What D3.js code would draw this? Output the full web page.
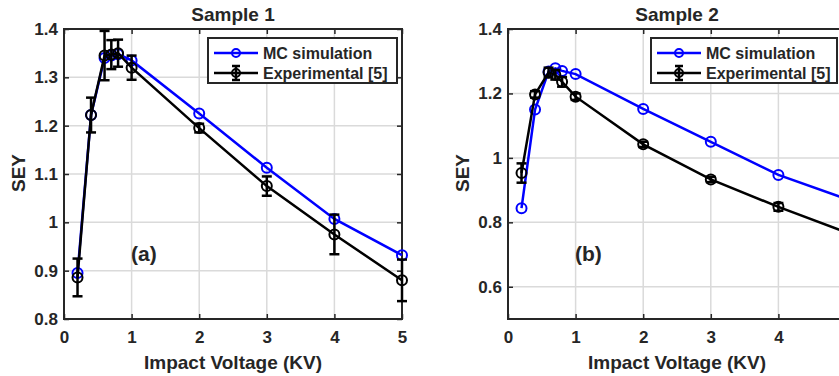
<!DOCTYPE html>
<html>
<head>
<meta charset="utf-8">
<script src="https://cdn.jsdelivr.net/npm/d3@7"></script>
<style>
  body { margin: 0; background: #fff; }
  text { font-family: "Liberation Sans", Arial, sans-serif; font-weight: bold; fill: #262626; }
</style>
</head>
<body>
<script>
// impact voltage (kV)
var voltage = [0.2, 0.4, 0.6, 0.7, 0.8, 1, 2, 3, 4, 5];

// sample 1
var mc1 = [0.895, 1.222, 1.340, 1.345, 1.348, 1.335, 1.225, 1.113, 1.007, 0.932];
var exp1 = [0.886, 1.222, 1.345, 1.347, 1.350, 1.320, 1.195, 1.075, 0.975, 0.880];
var err1 = [0.039, 0.036, 0.051, 0.030, 0.028, 0.025, 0.009, 0.020, 0.041, 0.043];

// sample 2
var mc2 = [0.844, 1.150, 1.268, 1.278, 1.270, 1.260, 1.152, 1.050, 0.947, 0.873];
var exp2 = [0.953, 1.197, 1.265, 1.258, 1.236, 1.190, 1.042, 0.933, 0.848, 0.769];
var err2 = [0.030, 0.010, 0.015, 0.015, 0.015, 0.010, 0.008, 0.008, 0.012, 0.010];

var xTicks = [0, 1, 2, 3, 4, 5];
var yTicks1 = [0.8, 0.9, 1, 1.1, 1.2, 1.3, 1.4];
var yTicks2 = [0.6, 0.8, 1, 1.2, 1.4];
var legendNames = ["MC simulation", "Experimental [5]"];

var svg = d3.select("body").append("svg")
	.attr("width", 839)
	.attr("height", 376);

function drawPanel(opt) {
	var x = d3.scaleLinear().domain([0, 5]).range([opt.left, opt.left + 338]);
	var y = d3.scaleLinear().domain(opt.yDomain).range([319, 29]);
	var g = svg.append("g");
	var x0 = x.range()[0], x1 = x.range()[1];

	// grid
	g.selectAll(".gx").data(xTicks).enter().append("line")
		.attr("x1", function(d) { return x(d); }).attr("x2", function(d) { return x(d); })
		.attr("y1", 29).attr("y2", 319)
		.attr("stroke", "#dadada").attr("stroke-width", 1.5);
	g.selectAll(".gy").data(opt.yTicks).enter().append("line")
		.attr("x1", x0).attr("x2", x1)
		.attr("y1", function(d) { return y(d); }).attr("y2", function(d) { return y(d); })
		.attr("stroke", "#dadada").attr("stroke-width", 1.5);

	// axes
	var xAxis = d3.axisBottom(x).tickValues(xTicks).tickSize(-5).tickPadding(12).tickFormat(d3.format("d"));
	var yAxis = d3.axisLeft(y).tickValues(opt.yTicks).tickSize(-5).tickPadding(6).tickFormat(function(d) { return d3.format("")(d); });
	var xa = g.append("g").attr("transform", "translate(0,319)").call(xAxis);
	var ya = g.append("g").attr("transform", "translate(" + x0 + ",0)").call(yAxis);
	var xt = g.append("g").attr("transform", "translate(0,29)").call(d3.axisTop(x).tickValues(xTicks).tickSize(-5).tickFormat(""));
	var yr = g.append("g").attr("transform", "translate(" + x1 + ",0)").call(d3.axisRight(y).tickValues(opt.yTicks).tickSize(-5).tickFormat(""));
	[xa, ya, xt, yr].forEach(function(a) {
		a.select(".domain").remove();
		a.selectAll("line").attr("stroke", "#262626").attr("stroke-width", 1.5);
		a.selectAll("text").style("font-size", "17px").style("font-family", null).attr("fill", "#262626");
	});
	g.append("rect").attr("x", x0).attr("y", 29).attr("width", x1 - x0).attr("height", 290)
		.attr("fill", "none").attr("stroke", "#262626").attr("stroke-width", 2);

	// series
	var line = d3.line().x(function(d) { return x(d[0]); }).y(function(d) { return y(d[1]); });
	var mcPts = voltage.map(function(v, i) { return [v, opt.mc[i]]; });
	var expPts = voltage.map(function(v, i) { return [v, opt.exp[i], opt.err[i]]; });

	g.append("path").datum(mcPts).attr("d", line)
		.attr("fill", "none").attr("stroke", "#0000ff").attr("stroke-width", 2.5);
	g.selectAll(".mc").data(mcPts).enter().append("circle")
		.attr("cx", function(d) { return x(d[0]); }).attr("cy", function(d) { return y(d[1]); })
		.attr("r", 5).attr("fill", "none").attr("stroke", "#0000ff").attr("stroke-width", 2);

	g.append("path").datum(expPts).attr("d", line)
		.attr("fill", "none").attr("stroke", "#000").attr("stroke-width", 2.5);
	var eb = g.selectAll(".eb").data(expPts).enter().append("g");
	eb.append("line")
		.attr("x1", function(d) { return x(d[0]); }).attr("x2", function(d) { return x(d[0]); })
		.attr("y1", function(d) { return y(d[1] - d[2]); }).attr("y2", function(d) { return y(d[1] + d[2]); })
		.attr("stroke", "#000").attr("stroke-width", 2.5);
	[-1, 1].forEach(function(s) {
		eb.append("line")
			.attr("x1", function(d) { return x(d[0]) - 5; }).attr("x2", function(d) { return x(d[0]) + 5; })
			.attr("y1", function(d) { return y(d[1] + s * d[2]); }).attr("y2", function(d) { return y(d[1] + s * d[2]); })
			.attr("stroke", "#000").attr("stroke-width", 2.5);
	});
	eb.append("circle")
		.attr("cx", function(d) { return x(d[0]); }).attr("cy", function(d) { return y(d[1]); })
		.attr("r", 5).attr("fill", "none").attr("stroke", "#000").attr("stroke-width", 2);

	// labels
	g.append("text").attr("x", (x0 + x1) / 2).attr("y", 21).attr("text-anchor", "middle")
		.style("font-size", "19px").attr("fill", "#000").text(opt.title);
	g.append("text").attr("x", (x0 + x1) / 2).attr("y", 369).attr("text-anchor", "middle")
		.style("font-size", "19px").text("Impact Voltage (KV)");
	g.append("text").attr("transform", "translate(" + (x0 - 39) + ",173) rotate(-90)").attr("text-anchor", "middle")
		.style("font-size", "19px").text("SEY");
	g.append("text").attr("x", x0 + 67).attr("y", 261)
		.style("font-size", "21px").attr("fill", "#000").text(opt.tag);

	// legend
	var lx = x0 + opt.legX, ly = 38;
	var lg = g.append("g");
	lg.append("rect").attr("x", lx).attr("y", ly).attr("width", opt.legW).attr("height", 45)
		.attr("fill", "#fff").attr("stroke", "#262626").attr("stroke-width", 2);
	lg.append("line").attr("x1", lx + 6).attr("x2", lx + 50).attr("y1", ly + 15).attr("y2", ly + 15)
		.attr("stroke", "#0000ff").attr("stroke-width", 2.5);
	lg.append("circle").attr("cx", lx + 28).attr("cy", ly + 15).attr("r", 4)
		.attr("fill", "none").attr("stroke", "#0000ff").attr("stroke-width", 2);
	lg.append("line").attr("x1", lx + 6).attr("x2", lx + 50).attr("y1", ly + 35).attr("y2", ly + 35)
		.attr("stroke", "#000").attr("stroke-width", 2.5);
	lg.append("line").attr("x1", lx + 28).attr("x2", lx + 28).attr("y1", ly + 28).attr("y2", ly + 42)
		.attr("stroke", "#000").attr("stroke-width", 2.5);
	[28, 42].forEach(function(dy) {
		lg.append("line").attr("x1", lx + 24).attr("x2", lx + 32).attr("y1", ly + dy).attr("y2", ly + dy)
			.attr("stroke", "#000").attr("stroke-width", 2.5);
	});
	lg.append("circle").attr("cx", lx + 28).attr("cy", ly + 35).attr("r", 4)
		.attr("fill", "none").attr("stroke", "#000").attr("stroke-width", 2);
	lg.selectAll(".lt").data(legendNames).enter().append("text")
		.attr("x", lx + 55).attr("y", function(d, i) { return ly + 21 + i * 20; })
		.style("font-size", "16px").attr("fill", "#000").text(function(d) { return d; });
}

drawPanel({ left: 64, yDomain: [0.8, 1.4], yTicks: yTicks1, mc: mc1, exp: exp1, err: err1, title: "Sample 1", tag: "(a)", legX: 144, legW: 189 });
drawPanel({ left: 508, yDomain: [0.5, 1.4], yTicks: yTicks2, mc: mc2, exp: exp2, err: err2, title: "Sample 2", tag: "(b)", legX: 143, legW: 186 });
</script>
</body>
</html>
